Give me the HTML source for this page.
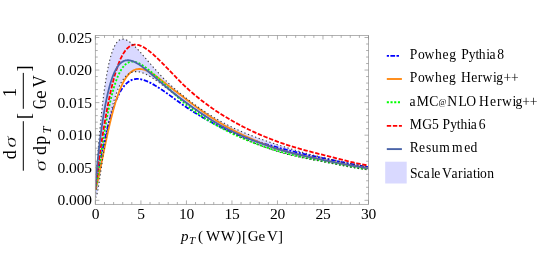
<!DOCTYPE html>
<html><head><meta charset="utf-8"><title>pT(WW)</title>
<style>
html,body{margin:0;padding:0;background:#fff;}
body{width:542px;height:254px;overflow:hidden;font-family:"Liberation Serif",serif;}
svg{display:block;font-family:"Liberation Serif",serif;}
svg text{fill:#000;}
.tx{filter:grayscale(1);}
</style></head><body>
<svg width="542" height="254" viewBox="0 0 542 254">
<defs><clipPath id="cp"><rect x="95.35" y="35.5" width="273.15" height="168.9"/></clipPath></defs>
<rect width="542" height="254" fill="#fff"/>
<g clip-path="url(#cp)" fill="none" stroke-linejoin="round">
<path d="M95.40 196.71 L95.86 184.98 L96.31 176.68 L96.77 169.34 L97.22 162.60 L97.68 156.29 L98.13 150.32 L98.59 144.64 L99.04 139.22 L99.50 134.03 L99.95 129.05 L100.41 124.27 L100.86 119.67 L101.32 115.26 L101.77 111.02 L102.23 106.94 L102.68 103.03 L103.14 99.27 L103.59 95.66 L104.05 92.20 L104.50 88.89 L104.96 85.72 L105.41 82.69 L105.87 79.80 L106.32 77.03 L106.78 74.40 L107.23 71.89 L107.69 69.50 L108.14 67.23 L108.60 65.08 L109.05 63.04 L109.51 61.11 L109.96 59.28 L110.42 57.56 L110.88 55.93 L111.33 54.41 L111.79 52.97 L112.24 51.63 L112.70 50.37 L113.15 49.20 L113.61 48.11 L114.06 47.09 L114.52 46.15 L114.97 45.29 L115.43 44.49 L115.88 43.75 L116.34 43.08 L116.79 42.48 L117.25 41.93 L117.70 41.43 L118.16 40.99 L118.61 40.61 L119.07 40.27 L119.52 39.97 L119.98 39.73 L120.43 39.52 L120.89 39.36 L121.34 39.23 L121.80 39.15 L122.25 39.09 L122.71 39.07 L123.16 39.09 L123.62 39.13 L124.07 39.20 L124.53 39.30 L124.98 39.43 L125.44 39.58 L125.90 39.76 L126.35 39.95 L126.81 40.17 L127.26 40.41 L127.72 40.67 L128.17 40.94 L128.63 41.23 L129.08 41.54 L129.54 41.86 L129.99 42.20 L130.45 42.55 L130.90 42.92 L131.36 43.29 L131.81 43.68 L132.27 44.08 L132.72 44.49 L133.18 44.90 L133.63 45.33 L134.09 45.76 L134.54 46.21 L135.00 46.65 L135.45 47.11 L135.91 47.57 L136.36 48.04 L136.82 48.51 L137.27 48.99 L137.73 49.47 L138.18 49.96 L138.64 50.45 L139.09 50.95 L139.55 51.44 L140.00 51.94 L140.46 52.45 L140.92 52.95 L141.37 53.46 L141.83 53.97 L142.28 54.49 L142.74 55.00 L143.19 55.52 L143.65 56.04 L144.10 56.57 L144.56 57.09 L145.01 57.62 L145.47 58.15 L145.92 58.67 L146.38 59.20 L146.83 59.73 L147.29 60.26 L147.74 60.79 L148.20 61.33 L148.65 61.86 L149.11 62.39 L149.56 62.92 L150.02 63.44 L150.47 63.97 L150.93 64.50 L151.38 65.03 L151.84 65.55 L152.29 66.08 L152.75 66.60 L153.20 67.12 L153.66 67.64 L154.11 68.16 L154.57 68.68 L155.02 69.19 L155.48 69.71 L155.93 70.22 L156.39 70.72 L156.85 71.23 L157.30 71.73 L157.76 72.24 L158.21 72.74 L158.67 73.23 L159.12 73.73 L159.58 74.22 L160.03 74.70 L160.49 75.19 L160.94 75.67 L161.40 76.15 L161.85 76.63 L162.31 77.10 L162.76 77.57 L163.22 78.04 L163.67 78.50 L164.13 78.96 L164.58 79.42 L165.04 79.87 L165.49 80.32 L165.95 80.76 L166.40 81.20 L166.86 81.64 L167.31 82.08 L167.77 82.51 L168.22 82.94 L169.13 83.79 L170.82 85.34 L172.52 86.85 L174.21 88.32 L175.90 89.77 L177.59 91.18 L179.28 92.58 L180.97 93.95 L182.66 95.31 L184.35 96.66 L186.04 97.99 L187.73 99.32 L189.42 100.63 L191.11 101.91 L192.80 103.18 L194.49 104.42 L196.18 105.65 L197.87 106.86 L199.56 108.04 L201.25 109.21 L202.95 110.36 L204.64 111.49 L206.33 112.60 L208.02 113.70 L209.71 114.77 L211.40 115.82 L213.09 116.86 L214.78 117.88 L216.47 118.88 L218.16 119.86 L219.85 120.83 L221.54 121.77 L223.23 122.70 L224.92 123.61 L226.61 124.50 L228.30 125.38 L229.99 126.23 L231.68 127.07 L233.38 127.89 L235.07 128.69 L236.76 129.48 L238.45 130.24 L240.14 130.99 L241.83 131.72 L243.52 132.44 L245.21 133.14 L246.90 133.83 L248.59 134.51 L250.28 135.17 L251.97 135.82 L253.66 136.47 L255.35 137.10 L257.04 137.72 L258.73 138.33 L260.42 138.93 L262.11 139.53 L263.81 140.12 L265.50 140.70 L267.19 141.28 L268.88 141.85 L270.57 142.42 L272.26 142.98 L273.95 143.54 L275.64 144.10 L277.33 144.66 L279.02 145.21 L280.71 145.76 L282.40 146.30 L284.09 146.83 L285.78 147.37 L287.47 147.89 L289.16 148.41 L290.85 148.92 L292.54 149.43 L294.24 149.94 L295.93 150.43 L297.62 150.93 L299.31 151.41 L301.00 151.89 L302.69 152.37 L304.38 152.84 L306.07 153.30 L307.76 153.76 L309.45 154.21 L311.14 154.66 L312.83 155.10 L314.52 155.53 L316.21 155.96 L317.90 156.38 L319.59 156.79 L321.28 157.20 L322.98 157.60 L324.67 158.00 L326.36 158.39 L328.05 158.77 L329.74 159.16 L331.43 159.53 L333.12 159.91 L334.81 160.27 L336.50 160.64 L338.19 161.00 L339.88 161.36 L341.57 161.71 L343.26 162.06 L344.95 162.40 L346.64 162.74 L348.33 163.08 L350.02 163.41 L351.71 163.74 L353.41 164.06 L355.10 164.38 L356.79 164.70 L358.48 165.01 L360.17 165.32 L361.86 165.63 L363.55 165.93 L365.24 166.23 L366.93 166.53 L368.62 166.82 L370.31 167.11 L370.31 170.25 L368.62 170.02 L366.93 169.78 L365.24 169.54 L363.55 169.29 L361.86 169.04 L360.17 168.77 L358.48 168.50 L356.79 168.23 L355.10 167.95 L353.41 167.66 L351.71 167.36 L350.02 167.06 L348.33 166.76 L346.64 166.45 L344.95 166.14 L343.26 165.82 L341.57 165.50 L339.88 165.17 L338.19 164.85 L336.50 164.52 L334.81 164.18 L333.12 163.85 L331.43 163.51 L329.74 163.17 L328.05 162.83 L326.36 162.49 L324.67 162.14 L322.98 161.80 L321.28 161.46 L319.59 161.12 L317.90 160.79 L316.21 160.46 L314.52 160.13 L312.83 159.80 L311.14 159.47 L309.45 159.14 L307.76 158.81 L306.07 158.48 L304.38 158.14 L302.69 157.80 L301.00 157.45 L299.31 157.09 L297.62 156.73 L295.93 156.36 L294.24 155.98 L292.54 155.59 L290.85 155.19 L289.16 154.77 L287.47 154.35 L285.78 153.91 L284.09 153.45 L282.40 152.98 L280.71 152.49 L279.02 151.98 L277.33 151.46 L275.64 150.92 L273.95 150.36 L272.26 149.79 L270.57 149.21 L268.88 148.62 L267.19 148.01 L265.50 147.39 L263.81 146.75 L262.11 146.11 L260.42 145.45 L258.73 144.78 L257.04 144.09 L255.35 143.40 L253.66 142.69 L251.97 141.96 L250.28 141.23 L248.59 140.48 L246.90 139.73 L245.21 138.96 L243.52 138.17 L241.83 137.38 L240.14 136.57 L238.45 135.76 L236.76 134.93 L235.07 134.08 L233.38 133.23 L231.68 132.37 L229.99 131.49 L228.30 130.59 L226.61 129.68 L224.92 128.76 L223.23 127.82 L221.54 126.86 L219.85 125.89 L218.16 124.90 L216.47 123.90 L214.78 122.88 L213.09 121.85 L211.40 120.80 L209.71 119.73 L208.02 118.65 L206.33 117.55 L204.64 116.43 L202.95 115.30 L201.25 114.16 L199.56 113.00 L197.87 111.82 L196.18 110.63 L194.49 109.43 L192.80 108.21 L191.11 106.98 L189.42 105.73 L187.73 104.47 L186.04 103.21 L184.35 101.93 L182.66 100.65 L180.97 99.36 L179.28 98.07 L177.59 96.77 L175.90 95.46 L174.21 94.16 L172.52 92.85 L170.82 91.53 L169.13 90.22 L168.22 89.51 L167.77 89.16 L167.31 88.81 L166.86 88.46 L166.40 88.10 L165.95 87.75 L165.49 87.40 L165.04 87.05 L164.58 86.70 L164.13 86.35 L163.67 86.00 L163.22 85.65 L162.76 85.30 L162.31 84.96 L161.85 84.61 L161.40 84.27 L160.94 83.93 L160.49 83.59 L160.03 83.25 L159.58 82.91 L159.12 82.58 L158.67 82.25 L158.21 81.92 L157.76 81.59 L157.30 81.26 L156.85 80.94 L156.39 80.62 L155.93 80.30 L155.48 79.98 L155.02 79.67 L154.57 79.36 L154.11 79.05 L153.66 78.75 L153.20 78.45 L152.75 78.15 L152.29 77.86 L151.84 77.57 L151.38 77.28 L150.93 77.00 L150.47 76.73 L150.02 76.45 L149.56 76.19 L149.11 75.93 L148.65 75.67 L148.20 75.42 L147.74 75.17 L147.29 74.93 L146.83 74.70 L146.38 74.47 L145.92 74.25 L145.47 74.03 L145.01 73.83 L144.56 73.63 L144.10 73.43 L143.65 73.25 L143.19 73.07 L142.74 72.90 L142.28 72.74 L141.83 72.59 L141.37 72.45 L140.92 72.31 L140.46 72.19 L140.00 72.08 L139.55 71.97 L139.09 71.88 L138.64 71.80 L138.18 71.74 L137.73 71.68 L137.27 71.64 L136.82 71.61 L136.36 71.59 L135.91 71.59 L135.45 71.60 L135.00 71.63 L134.54 71.67 L134.09 71.73 L133.63 71.80 L133.18 71.90 L132.72 72.00 L132.27 72.13 L131.81 72.28 L131.36 72.44 L130.90 72.62 L130.45 72.83 L129.99 73.05 L129.54 73.30 L129.08 73.57 L128.63 73.86 L128.17 74.18 L127.72 74.52 L127.26 74.88 L126.81 75.27 L126.35 75.69 L125.90 76.14 L125.44 76.61 L124.98 77.11 L124.53 77.65 L124.07 78.21 L123.62 78.81 L123.16 79.44 L122.71 80.10 L122.25 80.80 L121.80 81.53 L121.34 82.30 L120.89 83.11 L120.43 83.95 L119.98 84.84 L119.52 85.76 L119.07 86.73 L118.61 87.75 L118.16 88.80 L117.70 89.91 L117.25 91.05 L116.79 92.25 L116.34 93.50 L115.88 94.80 L115.43 96.14 L114.97 97.55 L114.52 99.00 L114.06 100.51 L113.61 102.08 L113.15 103.71 L112.70 105.39 L112.24 107.14 L111.79 108.94 L111.33 110.81 L110.88 112.74 L110.42 114.74 L109.96 116.80 L109.51 118.93 L109.05 121.12 L108.60 123.38 L108.14 125.71 L107.69 128.10 L107.23 130.57 L106.78 133.10 L106.32 135.69 L105.87 138.35 L105.41 141.08 L104.96 143.87 L104.50 146.71 L104.05 149.61 L103.59 152.57 L103.14 155.57 L102.68 158.61 L102.23 161.68 L101.77 164.78 L101.32 167.89 L100.86 171.01 L100.41 174.11 L99.95 177.17 L99.50 180.19 L99.04 183.12 L98.59 185.93 L98.13 188.59 L97.68 191.05 L97.22 193.25 L96.77 195.09 L96.31 196.49 L95.86 197.27 L95.40 197.01 Z" fill="#d9d9ff" stroke="none"/>
<path d="M95.40 190.25 L95.86 187.23 L96.31 184.41 L96.77 181.67 L97.22 178.98 L97.68 176.34 L98.13 173.74 L98.59 171.17 L99.04 168.64 L99.50 166.15 L99.95 163.69 L100.41 161.26 L100.86 158.87 L101.32 156.52 L101.77 154.19 L102.23 151.91 L102.68 149.66 L103.14 147.44 L103.59 145.26 L104.05 143.12 L104.50 141.01 L104.96 138.95 L105.41 136.92 L105.87 134.92 L106.32 132.97 L106.78 131.05 L107.23 129.18 L107.69 127.34 L108.14 125.54 L108.60 123.78 L109.05 122.06 L109.51 120.38 L109.96 118.74 L110.42 117.14 L110.88 115.58 L111.33 114.05 L111.79 112.57 L112.24 111.12 L112.70 109.72 L113.15 108.35 L113.61 107.02 L114.06 105.72 L114.52 104.47 L114.97 103.25 L115.43 102.07 L115.88 100.92 L116.34 99.81 L116.79 98.74 L117.25 97.70 L117.70 96.70 L118.16 95.73 L118.61 94.79 L119.07 93.89 L119.52 93.02 L119.98 92.18 L120.43 91.38 L120.89 90.60 L121.34 89.86 L121.80 89.14 L122.25 88.46 L122.71 87.81 L123.16 87.18 L123.62 86.58 L124.07 86.01 L124.53 85.46 L124.98 84.95 L125.44 84.45 L125.90 83.99 L126.35 83.54 L126.81 83.12 L127.26 82.73 L127.72 82.36 L128.17 82.01 L128.63 81.68 L129.08 81.37 L129.54 81.08 L129.99 80.82 L130.45 80.57 L130.90 80.35 L131.36 80.14 L131.81 79.95 L132.27 79.78 L132.72 79.62 L133.18 79.48 L133.63 79.36 L134.09 79.26 L134.54 79.17 L135.00 79.09 L135.45 79.03 L135.91 78.99 L136.36 78.96 L136.82 78.94 L137.27 78.93 L137.73 78.94 L138.18 78.96 L138.64 78.99 L139.09 79.04 L139.55 79.09 L140.00 79.16 L140.46 79.23 L140.92 79.32 L141.37 79.41 L141.83 79.52 L142.28 79.63 L142.74 79.75 L143.19 79.88 L143.65 80.02 L144.10 80.17 L144.56 80.32 L145.01 80.48 L145.47 80.65 L145.92 80.83 L146.38 81.01 L146.83 81.19 L147.29 81.39 L147.74 81.59 L148.20 81.79 L148.65 82.00 L149.11 82.22 L149.56 82.44 L150.02 82.67 L150.47 82.90 L150.93 83.13 L151.38 83.37 L151.84 83.62 L152.29 83.86 L152.75 84.12 L153.20 84.37 L153.66 84.63 L154.11 84.89 L154.57 85.16 L155.02 85.43 L155.48 85.70 L155.93 85.97 L156.39 86.25 L156.85 86.53 L157.30 86.82 L157.76 87.10 L158.21 87.39 L158.67 87.68 L159.12 87.97 L159.58 88.27 L160.03 88.56 L160.49 88.86 L160.94 89.16 L161.40 89.47 L161.85 89.77 L162.31 90.07 L162.76 90.38 L163.22 90.69 L163.67 91.00 L164.13 91.31 L164.58 91.63 L165.04 91.94 L165.49 92.26 L165.95 92.58 L166.40 92.90 L166.86 93.23 L167.31 93.55 L167.77 93.88 L168.22 94.21 L169.13 94.87 L170.82 96.11 L172.52 97.35 L174.21 98.60 L175.90 99.85 L177.59 101.09 L179.28 102.32 L180.97 103.53 L182.66 104.72 L184.35 105.90 L186.04 107.04 L187.73 108.16 L189.42 109.27 L191.11 110.36 L192.80 111.44 L194.49 112.50 L196.18 113.55 L197.87 114.58 L199.56 115.60 L201.25 116.61 L202.95 117.60 L204.64 118.57 L206.33 119.53 L208.02 120.47 L209.71 121.40 L211.40 122.32 L213.09 123.21 L214.78 124.10 L216.47 124.97 L218.16 125.83 L219.85 126.67 L221.54 127.50 L223.23 128.31 L224.92 129.11 L226.61 129.90 L228.30 130.68 L229.99 131.44 L231.68 132.19 L233.38 132.92 L235.07 133.63 L236.76 134.33 L238.45 135.01 L240.14 135.67 L241.83 136.31 L243.52 136.94 L245.21 137.55 L246.90 138.15 L248.59 138.73 L250.28 139.30 L251.97 139.86 L253.66 140.41 L255.35 140.95 L257.04 141.48 L258.73 142.00 L260.42 142.52 L262.11 143.02 L263.81 143.52 L265.50 144.01 L267.19 144.50 L268.88 144.98 L270.57 145.46 L272.26 145.94 L273.95 146.42 L275.64 146.89 L277.33 147.36 L279.02 147.83 L280.71 148.30 L282.40 148.75 L284.09 149.20 L285.78 149.65 L287.47 150.09 L289.16 150.52 L290.85 150.94 L292.54 151.36 L294.24 151.78 L295.93 152.19 L297.62 152.59 L299.31 152.99 L301.00 153.38 L302.69 153.77 L304.38 154.16 L306.07 154.54 L307.76 154.91 L309.45 155.28 L311.14 155.65 L312.83 156.01 L314.52 156.37 L316.21 156.72 L317.90 157.07 L319.59 157.42 L321.28 157.76 L322.98 158.10 L324.67 158.44 L326.36 158.79 L328.05 159.14 L329.74 159.49 L331.43 159.85 L333.12 160.21 L334.81 160.57 L336.50 160.94 L338.19 161.30 L339.88 161.66 L341.57 162.03 L343.26 162.39 L344.95 162.75 L346.64 163.10 L348.33 163.45 L350.02 163.80 L351.71 164.14 L353.41 164.48 L355.10 164.81 L356.79 165.13 L358.48 165.45 L360.17 165.75 L361.86 166.05 L363.55 166.33 L365.24 166.61 L366.93 166.87 L368.62 167.12 L370.31 167.36" stroke="#0000ff" stroke-width="1.8" stroke-dasharray="2 1.6 4.6 1.6"/>
<path d="M95.40 189.42 L95.86 188.15 L96.31 186.53 L96.77 184.75 L97.22 182.87 L97.68 180.91 L98.13 178.88 L98.59 176.81 L99.04 174.69 L99.50 172.55 L99.95 170.37 L100.41 168.17 L100.86 165.96 L101.32 163.74 L101.77 161.51 L102.23 159.27 L102.68 157.03 L103.14 154.80 L103.59 152.57 L104.05 150.35 L104.50 148.14 L104.96 145.94 L105.41 143.76 L105.87 141.59 L106.32 139.45 L106.78 137.32 L107.23 135.22 L107.69 133.14 L108.14 131.08 L108.60 129.06 L109.05 127.06 L109.51 125.09 L109.96 123.15 L110.42 121.25 L110.88 119.37 L111.33 117.53 L111.79 115.72 L112.24 113.95 L112.70 112.22 L113.15 110.52 L113.61 108.85 L114.06 107.23 L114.52 105.64 L114.97 104.08 L115.43 102.57 L115.88 101.09 L116.34 99.65 L116.79 98.25 L117.25 96.88 L117.70 95.56 L118.16 94.27 L118.61 93.02 L119.07 91.81 L119.52 90.63 L119.98 89.49 L120.43 88.39 L120.89 87.32 L121.34 86.29 L121.80 85.30 L122.25 84.34 L122.71 83.42 L123.16 82.53 L123.62 81.67 L124.07 80.85 L124.53 80.06 L124.98 79.30 L125.44 78.58 L125.90 77.88 L126.35 77.22 L126.81 76.59 L127.26 75.99 L127.72 75.41 L128.17 74.87 L128.63 74.35 L129.08 73.86 L129.54 73.40 L129.99 72.97 L130.45 72.56 L130.90 72.18 L131.36 71.82 L131.81 71.48 L132.27 71.17 L132.72 70.88 L133.18 70.62 L133.63 70.38 L134.09 70.15 L134.54 69.95 L135.00 69.77 L135.45 69.61 L135.91 69.47 L136.36 69.35 L136.82 69.24 L137.27 69.16 L137.73 69.09 L138.18 69.03 L138.64 69.00 L139.09 68.98 L139.55 68.97 L140.00 68.98 L140.46 69.01 L140.92 69.05 L141.37 69.10 L141.83 69.17 L142.28 69.25 L142.74 69.34 L143.19 69.45 L143.65 69.57 L144.10 69.70 L144.56 69.84 L145.01 69.99 L145.47 70.15 L145.92 70.33 L146.38 70.51 L146.83 70.70 L147.29 70.91 L147.74 71.12 L148.20 71.34 L148.65 71.57 L149.11 71.80 L149.56 72.05 L150.02 72.30 L150.47 72.56 L150.93 72.82 L151.38 73.09 L151.84 73.37 L152.29 73.65 L152.75 73.94 L153.20 74.24 L153.66 74.54 L154.11 74.84 L154.57 75.15 L155.02 75.46 L155.48 75.78 L155.93 76.10 L156.39 76.43 L156.85 76.76 L157.30 77.09 L157.76 77.43 L158.21 77.77 L158.67 78.11 L159.12 78.45 L159.58 78.80 L160.03 79.15 L160.49 79.50 L160.94 79.85 L161.40 80.21 L161.85 80.56 L162.31 80.92 L162.76 81.28 L163.22 81.64 L163.67 82.00 L164.13 82.36 L164.58 82.72 L165.04 83.08 L165.49 83.44 L165.95 83.80 L166.40 84.16 L166.86 84.51 L167.31 84.87 L167.77 85.22 L168.22 85.58 L169.13 86.29 L170.82 87.59 L172.52 88.89 L174.21 90.18 L175.90 91.46 L177.59 92.74 L179.28 94.02 L180.97 95.31 L182.66 96.59 L184.35 97.89 L186.04 99.20 L187.73 100.51 L189.42 101.81 L191.11 103.11 L192.80 104.38 L194.49 105.65 L196.18 106.90 L197.87 108.13 L199.56 109.35 L201.25 110.56 L202.95 111.75 L204.64 112.92 L206.33 114.07 L208.02 115.21 L209.71 116.33 L211.40 117.44 L213.09 118.53 L214.78 119.60 L216.47 120.65 L218.16 121.69 L219.85 122.71 L221.54 123.71 L223.23 124.69 L224.92 125.66 L226.61 126.61 L228.30 127.55 L229.99 128.46 L231.68 129.36 L233.38 130.25 L235.07 131.12 L236.76 131.98 L238.45 132.83 L240.14 133.66 L241.83 134.48 L243.52 135.29 L245.21 136.09 L246.90 136.88 L248.59 137.65 L250.28 138.41 L251.97 139.16 L253.66 139.89 L255.35 140.62 L257.04 141.33 L258.73 142.02 L260.42 142.71 L262.11 143.38 L263.81 144.04 L265.50 144.69 L267.19 145.32 L268.88 145.94 L270.57 146.55 L272.26 147.15 L273.95 147.73 L275.64 148.30 L277.33 148.86 L279.02 149.40 L280.71 149.92 L282.40 150.43 L284.09 150.92 L285.78 151.40 L287.47 151.86 L289.16 152.31 L290.85 152.75 L292.54 153.18 L294.24 153.60 L295.93 154.00 L297.62 154.40 L299.31 154.79 L301.00 155.18 L302.69 155.55 L304.38 155.92 L306.07 156.29 L307.76 156.66 L309.45 157.02 L311.14 157.38 L312.83 157.73 L314.52 158.09 L316.21 158.45 L317.90 158.81 L319.59 159.17 L321.28 159.53 L322.98 159.90 L324.67 160.27 L326.36 160.63 L328.05 160.99 L329.74 161.34 L331.43 161.69 L333.12 162.03 L334.81 162.37 L336.50 162.71 L338.19 163.04 L339.88 163.36 L341.57 163.69 L343.26 164.00 L344.95 164.32 L346.64 164.63 L348.33 164.93 L350.02 165.24 L351.71 165.53 L353.41 165.83 L355.10 166.12 L356.79 166.41 L358.48 166.69 L360.17 166.97 L361.86 167.25 L363.55 167.52 L365.24 167.79 L366.93 168.06 L368.62 168.32 L370.31 168.58" stroke="#ff8a14" stroke-width="1.8"/>
<path d="M95.40 190.04 L95.86 187.96 L96.31 185.41 L96.77 182.66 L97.22 179.78 L97.68 176.81 L98.13 173.79 L98.59 170.72 L99.04 167.64 L99.50 164.54 L99.95 161.44 L100.41 158.35 L100.86 155.27 L101.32 152.22 L101.77 149.19 L102.23 146.20 L102.68 143.24 L103.14 140.32 L103.59 137.45 L104.05 134.62 L104.50 131.85 L104.96 129.12 L105.41 126.45 L105.87 123.84 L106.32 121.28 L106.78 118.78 L107.23 116.34 L107.69 113.96 L108.14 111.64 L108.60 109.38 L109.05 107.18 L109.51 105.05 L109.96 102.97 L110.42 100.96 L110.88 99.01 L111.33 97.11 L111.79 95.28 L112.24 93.51 L112.70 91.80 L113.15 90.15 L113.61 88.55 L114.06 87.02 L114.52 85.54 L114.97 84.11 L115.43 82.74 L115.88 81.43 L116.34 80.16 L116.79 78.95 L117.25 77.79 L117.70 76.68 L118.16 75.62 L118.61 74.61 L119.07 73.65 L119.52 72.73 L119.98 71.85 L120.43 71.02 L120.89 70.23 L121.34 69.49 L121.80 68.79 L122.25 68.12 L122.71 67.49 L123.16 66.91 L123.62 66.36 L124.07 65.84 L124.53 65.36 L124.98 64.91 L125.44 64.50 L125.90 64.12 L126.35 63.77 L126.81 63.45 L127.26 63.16 L127.72 62.89 L128.17 62.66 L128.63 62.45 L129.08 62.27 L129.54 62.11 L129.99 61.98 L130.45 61.87 L130.90 61.78 L131.36 61.72 L131.81 61.67 L132.27 61.65 L132.72 61.65 L133.18 61.67 L133.63 61.70 L134.09 61.76 L134.54 61.83 L135.00 61.92 L135.45 62.02 L135.91 62.14 L136.36 62.27 L136.82 62.42 L137.27 62.59 L137.73 62.76 L138.18 62.95 L138.64 63.16 L139.09 63.37 L139.55 63.60 L140.00 63.83 L140.46 64.08 L140.92 64.34 L141.37 64.60 L141.83 64.88 L142.28 65.16 L142.74 65.46 L143.19 65.76 L143.65 66.06 L144.10 66.38 L144.56 66.70 L145.01 67.03 L145.47 67.36 L145.92 67.70 L146.38 68.04 L146.83 68.39 L147.29 68.75 L147.74 69.11 L148.20 69.47 L148.65 69.84 L149.11 70.22 L149.56 70.60 L150.02 70.98 L150.47 71.36 L150.93 71.75 L151.38 72.14 L151.84 72.54 L152.29 72.94 L152.75 73.34 L153.20 73.74 L153.66 74.15 L154.11 74.55 L154.57 74.96 L155.02 75.38 L155.48 75.79 L155.93 76.21 L156.39 76.63 L156.85 77.05 L157.30 77.47 L157.76 77.89 L158.21 78.32 L158.67 78.74 L159.12 79.17 L159.58 79.60 L160.03 80.03 L160.49 80.46 L160.94 80.89 L161.40 81.33 L161.85 81.76 L162.31 82.19 L162.76 82.63 L163.22 83.06 L163.67 83.50 L164.13 83.94 L164.58 84.38 L165.04 84.82 L165.49 85.26 L165.95 85.70 L166.40 86.15 L166.86 86.59 L167.31 87.04 L167.77 87.48 L168.22 87.93 L169.13 88.83 L170.82 90.49 L172.52 92.15 L174.21 93.80 L175.90 95.43 L177.59 97.04 L179.28 98.62 L180.97 100.17 L182.66 101.68 L184.35 103.15 L186.04 104.58 L187.73 105.96 L189.42 107.31 L191.11 108.63 L192.80 109.92 L194.49 111.19 L196.18 112.43 L197.87 113.63 L199.56 114.82 L201.25 115.97 L202.95 117.10 L204.64 118.21 L206.33 119.29 L208.02 120.35 L209.71 121.39 L211.40 122.41 L213.09 123.41 L214.78 124.38 L216.47 125.34 L218.16 126.28 L219.85 127.21 L221.54 128.11 L223.23 129.01 L224.92 129.89 L226.61 130.75 L228.30 131.60 L229.99 132.44 L231.68 133.27 L233.38 134.09 L235.07 134.89 L236.76 135.68 L238.45 136.46 L240.14 137.22 L241.83 137.97 L243.52 138.70 L245.21 139.42 L246.90 140.13 L248.59 140.82 L250.28 141.51 L251.97 142.18 L253.66 142.83 L255.35 143.48 L257.04 144.11 L258.73 144.74 L260.42 145.35 L262.11 145.95 L263.81 146.54 L265.50 147.11 L267.19 147.68 L268.88 148.24 L270.57 148.78 L272.26 149.32 L273.95 149.84 L275.64 150.36 L277.33 150.86 L279.02 151.35 L280.71 151.84 L282.40 152.30 L284.09 152.76 L285.78 153.21 L287.47 153.64 L289.16 154.07 L290.85 154.48 L292.54 154.89 L294.24 155.29 L295.93 155.68 L297.62 156.06 L299.31 156.44 L301.00 156.81 L302.69 157.17 L304.38 157.53 L306.07 157.88 L307.76 158.23 L309.45 158.57 L311.14 158.91 L312.83 159.24 L314.52 159.57 L316.21 159.90 L317.90 160.23 L319.59 160.55 L321.28 160.88 L322.98 161.20 L324.67 161.52 L326.36 161.85 L328.05 162.18 L329.74 162.52 L331.43 162.85 L333.12 163.19 L334.81 163.53 L336.50 163.87 L338.19 164.20 L339.88 164.54 L341.57 164.88 L343.26 165.21 L344.95 165.54 L346.64 165.86 L348.33 166.19 L350.02 166.50 L351.71 166.82 L353.41 167.12 L355.10 167.42 L356.79 167.72 L358.48 168.00 L360.17 168.28 L361.86 168.55 L363.55 168.81 L365.24 169.05 L366.93 169.29 L368.62 169.52 L370.31 169.74" stroke="#00ff00" stroke-width="1.8" stroke-dasharray="2 1.7"/>
<path d="M95.40 189.88 L95.86 185.24 L96.31 181.20 L96.77 177.38 L97.22 173.69 L97.68 170.10 L98.13 166.61 L98.59 163.18 L99.04 159.82 L99.50 156.52 L99.95 153.28 L100.41 150.10 L100.86 146.96 L101.32 143.88 L101.77 140.85 L102.23 137.87 L102.68 134.94 L103.14 132.06 L103.59 129.22 L104.05 126.44 L104.50 123.70 L104.96 121.02 L105.41 118.38 L105.87 115.79 L106.32 113.25 L106.78 110.76 L107.23 108.33 L107.69 105.94 L108.14 103.60 L108.60 101.31 L109.05 99.08 L109.51 96.89 L109.96 94.75 L110.42 92.67 L110.88 90.63 L111.33 88.65 L111.79 86.72 L112.24 84.83 L112.70 83.00 L113.15 81.22 L113.61 79.48 L114.06 77.80 L114.52 76.17 L114.97 74.58 L115.43 73.05 L115.88 71.56 L116.34 70.12 L116.79 68.72 L117.25 67.38 L117.70 66.08 L118.16 64.82 L118.61 63.62 L119.07 62.45 L119.52 61.33 L119.98 60.26 L120.43 59.22 L120.89 58.23 L121.34 57.29 L121.80 56.38 L122.25 55.51 L122.71 54.68 L123.16 53.89 L123.62 53.14 L124.07 52.43 L124.53 51.75 L124.98 51.11 L125.44 50.51 L125.90 49.93 L126.35 49.40 L126.81 48.89 L127.26 48.42 L127.72 47.98 L128.17 47.57 L128.63 47.19 L129.08 46.85 L129.54 46.52 L129.99 46.23 L130.45 45.97 L130.90 45.73 L131.36 45.51 L131.81 45.33 L132.27 45.16 L132.72 45.02 L133.18 44.91 L133.63 44.82 L134.09 44.74 L134.54 44.69 L135.00 44.66 L135.45 44.65 L135.91 44.66 L136.36 44.69 L136.82 44.74 L137.27 44.81 L137.73 44.89 L138.18 44.99 L138.64 45.10 L139.09 45.23 L139.55 45.38 L140.00 45.54 L140.46 45.71 L140.92 45.90 L141.37 46.10 L141.83 46.31 L142.28 46.53 L142.74 46.77 L143.19 47.01 L143.65 47.27 L144.10 47.53 L144.56 47.81 L145.01 48.09 L145.47 48.39 L145.92 48.69 L146.38 49.00 L146.83 49.32 L147.29 49.64 L147.74 49.97 L148.20 50.31 L148.65 50.66 L149.11 51.01 L149.56 51.37 L150.02 51.74 L150.47 52.11 L150.93 52.48 L151.38 52.86 L151.84 53.25 L152.29 53.64 L152.75 54.04 L153.20 54.44 L153.66 54.84 L154.11 55.25 L154.57 55.66 L155.02 56.08 L155.48 56.50 L155.93 56.92 L156.39 57.35 L156.85 57.78 L157.30 58.21 L157.76 58.65 L158.21 59.08 L158.67 59.52 L159.12 59.97 L159.58 60.41 L160.03 60.86 L160.49 61.31 L160.94 61.76 L161.40 62.21 L161.85 62.67 L162.31 63.12 L162.76 63.58 L163.22 64.04 L163.67 64.50 L164.13 64.96 L164.58 65.43 L165.04 65.89 L165.49 66.36 L165.95 66.83 L166.40 67.30 L166.86 67.78 L167.31 68.25 L167.77 68.73 L168.22 69.20 L169.13 70.16 L170.82 71.93 L172.52 73.71 L174.21 75.47 L175.90 77.23 L177.59 78.97 L179.28 80.69 L180.97 82.38 L182.66 84.04 L184.35 85.66 L186.04 87.24 L187.73 88.78 L189.42 90.30 L191.11 91.79 L192.80 93.26 L194.49 94.70 L196.18 96.11 L197.87 97.50 L199.56 98.86 L201.25 100.19 L202.95 101.50 L204.64 102.79 L206.33 104.06 L208.02 105.30 L209.71 106.51 L211.40 107.71 L213.09 108.88 L214.78 110.04 L216.47 111.17 L218.16 112.28 L219.85 113.38 L221.54 114.45 L223.23 115.51 L224.92 116.55 L226.61 117.57 L228.30 118.58 L229.99 119.57 L231.68 120.55 L233.38 121.51 L235.07 122.46 L236.76 123.39 L238.45 124.30 L240.14 125.20 L241.83 126.08 L243.52 126.95 L245.21 127.80 L246.90 128.64 L248.59 129.46 L250.28 130.27 L251.97 131.07 L253.66 131.85 L255.35 132.62 L257.04 133.38 L258.73 134.13 L260.42 134.86 L262.11 135.58 L263.81 136.29 L265.50 136.98 L267.19 137.67 L268.88 138.34 L270.57 139.01 L272.26 139.66 L273.95 140.30 L275.64 140.93 L277.33 141.55 L279.02 142.16 L280.71 142.76 L282.40 143.35 L284.09 143.92 L285.78 144.48 L287.47 145.04 L289.16 145.58 L290.85 146.11 L292.54 146.64 L294.24 147.15 L295.93 147.66 L297.62 148.15 L299.31 148.65 L301.00 149.13 L302.69 149.60 L304.38 150.07 L306.07 150.54 L307.76 150.99 L309.45 151.44 L311.14 151.89 L312.83 152.33 L314.52 152.77 L316.21 153.20 L317.90 153.63 L319.59 154.06 L321.28 154.48 L322.98 154.90 L324.67 155.32 L326.36 155.74 L328.05 156.17 L329.74 156.60 L331.43 157.03 L333.12 157.46 L334.81 157.90 L336.50 158.33 L338.19 158.76 L339.88 159.19 L341.57 159.62 L343.26 160.04 L344.95 160.46 L346.64 160.88 L348.33 161.29 L350.02 161.70 L351.71 162.10 L353.41 162.49 L355.10 162.88 L356.79 163.26 L358.48 163.63 L360.17 163.99 L361.86 164.34 L363.55 164.68 L365.24 165.00 L366.93 165.32 L368.62 165.62 L370.31 165.92" stroke="#ff0000" stroke-width="1.8" stroke-dasharray="4.4 1.65"/>
<path d="M95.40 196.71 L95.86 184.98 L96.31 176.68 L96.77 169.34 L97.22 162.60 L97.68 156.29 L98.13 150.32 L98.59 144.64 L99.04 139.22 L99.50 134.03 L99.95 129.05 L100.41 124.27 L100.86 119.67 L101.32 115.26 L101.77 111.02 L102.23 106.94 L102.68 103.03 L103.14 99.27 L103.59 95.66 L104.05 92.20 L104.50 88.89 L104.96 85.72 L105.41 82.69 L105.87 79.80 L106.32 77.03 L106.78 74.40 L107.23 71.89 L107.69 69.50 L108.14 67.23 L108.60 65.08 L109.05 63.04 L109.51 61.11 L109.96 59.28 L110.42 57.56 L110.88 55.93 L111.33 54.41 L111.79 52.97 L112.24 51.63 L112.70 50.37 L113.15 49.20 L113.61 48.11 L114.06 47.09 L114.52 46.15 L114.97 45.29 L115.43 44.49 L115.88 43.75 L116.34 43.08 L116.79 42.48 L117.25 41.93 L117.70 41.43 L118.16 40.99 L118.61 40.61 L119.07 40.27 L119.52 39.97 L119.98 39.73 L120.43 39.52 L120.89 39.36 L121.34 39.23 L121.80 39.15 L122.25 39.09 L122.71 39.07 L123.16 39.09 L123.62 39.13 L124.07 39.20 L124.53 39.30 L124.98 39.43 L125.44 39.58 L125.90 39.76 L126.35 39.95 L126.81 40.17 L127.26 40.41 L127.72 40.67 L128.17 40.94 L128.63 41.23 L129.08 41.54 L129.54 41.86 L129.99 42.20 L130.45 42.55 L130.90 42.92 L131.36 43.29 L131.81 43.68 L132.27 44.08 L132.72 44.49 L133.18 44.90 L133.63 45.33 L134.09 45.76 L134.54 46.21 L135.00 46.65 L135.45 47.11 L135.91 47.57 L136.36 48.04 L136.82 48.51 L137.27 48.99 L137.73 49.47 L138.18 49.96 L138.64 50.45 L139.09 50.95 L139.55 51.44 L140.00 51.94 L140.46 52.45 L140.92 52.95 L141.37 53.46 L141.83 53.97 L142.28 54.49 L142.74 55.00 L143.19 55.52 L143.65 56.04 L144.10 56.57 L144.56 57.09 L145.01 57.62 L145.47 58.15 L145.92 58.67 L146.38 59.20 L146.83 59.73 L147.29 60.26 L147.74 60.79 L148.20 61.33 L148.65 61.86 L149.11 62.39 L149.56 62.92 L150.02 63.44 L150.47 63.97 L150.93 64.50 L151.38 65.03 L151.84 65.55 L152.29 66.08 L152.75 66.60 L153.20 67.12 L153.66 67.64 L154.11 68.16 L154.57 68.68 L155.02 69.19 L155.48 69.71 L155.93 70.22 L156.39 70.72 L156.85 71.23 L157.30 71.73 L157.76 72.24 L158.21 72.74 L158.67 73.23 L159.12 73.73 L159.58 74.22 L160.03 74.70 L160.49 75.19 L160.94 75.67 L161.40 76.15 L161.85 76.63 L162.31 77.10 L162.76 77.57 L163.22 78.04 L163.67 78.50 L164.13 78.96 L164.58 79.42 L165.04 79.87 L165.49 80.32 L165.95 80.76 L166.40 81.20 L166.86 81.64 L167.31 82.08 L167.77 82.51 L168.22 82.94 L169.13 83.79 L170.82 85.34 L172.52 86.85 L174.21 88.32 L175.90 89.77 L177.59 91.18 L179.28 92.58 L180.97 93.95 L182.66 95.31 L184.35 96.66 L186.04 97.99 L187.73 99.32 L189.42 100.63 L191.11 101.91 L192.80 103.18 L194.49 104.42 L196.18 105.65 L197.87 106.86 L199.56 108.04 L201.25 109.21 L202.95 110.36 L204.64 111.49 L206.33 112.60 L208.02 113.70 L209.71 114.77 L211.40 115.82 L213.09 116.86 L214.78 117.88 L216.47 118.88 L218.16 119.86 L219.85 120.83 L221.54 121.77 L223.23 122.70 L224.92 123.61 L226.61 124.50 L228.30 125.38 L229.99 126.23 L231.68 127.07 L233.38 127.89 L235.07 128.69 L236.76 129.48 L238.45 130.24 L240.14 130.99 L241.83 131.72 L243.52 132.44 L245.21 133.14 L246.90 133.83 L248.59 134.51 L250.28 135.17 L251.97 135.82 L253.66 136.47 L255.35 137.10 L257.04 137.72 L258.73 138.33 L260.42 138.93 L262.11 139.53 L263.81 140.12 L265.50 140.70 L267.19 141.28 L268.88 141.85 L270.57 142.42 L272.26 142.98 L273.95 143.54 L275.64 144.10 L277.33 144.66 L279.02 145.21 L280.71 145.76 L282.40 146.30 L284.09 146.83 L285.78 147.37 L287.47 147.89 L289.16 148.41 L290.85 148.92 L292.54 149.43 L294.24 149.94 L295.93 150.43 L297.62 150.93 L299.31 151.41 L301.00 151.89 L302.69 152.37 L304.38 152.84 L306.07 153.30 L307.76 153.76 L309.45 154.21 L311.14 154.66 L312.83 155.10 L314.52 155.53 L316.21 155.96 L317.90 156.38 L319.59 156.79 L321.28 157.20 L322.98 157.60 L324.67 158.00 L326.36 158.39 L328.05 158.77 L329.74 159.16 L331.43 159.53 L333.12 159.91 L334.81 160.27 L336.50 160.64 L338.19 161.00 L339.88 161.36 L341.57 161.71 L343.26 162.06 L344.95 162.40 L346.64 162.74 L348.33 163.08 L350.02 163.41 L351.71 163.74 L353.41 164.06 L355.10 164.38 L356.79 164.70 L358.48 165.01 L360.17 165.32 L361.86 165.63 L363.55 165.93 L365.24 166.23 L366.93 166.53 L368.62 166.82 L370.31 167.11" stroke="#3a3a3a" stroke-width="1.1" stroke-dasharray="1.3 2.5"/>
<path d="M95.40 197.01 L95.86 197.27 L96.31 196.49 L96.77 195.09 L97.22 193.25 L97.68 191.05 L98.13 188.59 L98.59 185.93 L99.04 183.12 L99.50 180.19 L99.95 177.17 L100.41 174.11 L100.86 171.01 L101.32 167.89 L101.77 164.78 L102.23 161.68 L102.68 158.61 L103.14 155.57 L103.59 152.57 L104.05 149.61 L104.50 146.71 L104.96 143.87 L105.41 141.08 L105.87 138.35 L106.32 135.69 L106.78 133.10 L107.23 130.57 L107.69 128.10 L108.14 125.71 L108.60 123.38 L109.05 121.12 L109.51 118.93 L109.96 116.80 L110.42 114.74 L110.88 112.74 L111.33 110.81 L111.79 108.94 L112.24 107.14 L112.70 105.39 L113.15 103.71 L113.61 102.08 L114.06 100.51 L114.52 99.00 L114.97 97.55 L115.43 96.14 L115.88 94.80 L116.34 93.50 L116.79 92.25 L117.25 91.05 L117.70 89.91 L118.16 88.80 L118.61 87.75 L119.07 86.73 L119.52 85.76 L119.98 84.84 L120.43 83.95 L120.89 83.11 L121.34 82.30 L121.80 81.53 L122.25 80.80 L122.71 80.10 L123.16 79.44 L123.62 78.81 L124.07 78.21 L124.53 77.65 L124.98 77.11 L125.44 76.61 L125.90 76.14 L126.35 75.69 L126.81 75.27 L127.26 74.88 L127.72 74.52 L128.17 74.18 L128.63 73.86 L129.08 73.57 L129.54 73.30 L129.99 73.05 L130.45 72.83 L130.90 72.62 L131.36 72.44 L131.81 72.28 L132.27 72.13 L132.72 72.00 L133.18 71.90 L133.63 71.80 L134.09 71.73 L134.54 71.67 L135.00 71.63 L135.45 71.60 L135.91 71.59 L136.36 71.59 L136.82 71.61 L137.27 71.64 L137.73 71.68 L138.18 71.74 L138.64 71.80 L139.09 71.88 L139.55 71.97 L140.00 72.08 L140.46 72.19 L140.92 72.31 L141.37 72.45 L141.83 72.59 L142.28 72.74 L142.74 72.90 L143.19 73.07 L143.65 73.25 L144.10 73.43 L144.56 73.63 L145.01 73.83 L145.47 74.03 L145.92 74.25 L146.38 74.47 L146.83 74.70 L147.29 74.93 L147.74 75.17 L148.20 75.42 L148.65 75.67 L149.11 75.93 L149.56 76.19 L150.02 76.45 L150.47 76.73 L150.93 77.00 L151.38 77.28 L151.84 77.57 L152.29 77.86 L152.75 78.15 L153.20 78.45 L153.66 78.75 L154.11 79.05 L154.57 79.36 L155.02 79.67 L155.48 79.98 L155.93 80.30 L156.39 80.62 L156.85 80.94 L157.30 81.26 L157.76 81.59 L158.21 81.92 L158.67 82.25 L159.12 82.58 L159.58 82.91 L160.03 83.25 L160.49 83.59 L160.94 83.93 L161.40 84.27 L161.85 84.61 L162.31 84.96 L162.76 85.30 L163.22 85.65 L163.67 86.00 L164.13 86.35 L164.58 86.70 L165.04 87.05 L165.49 87.40 L165.95 87.75 L166.40 88.10 L166.86 88.46 L167.31 88.81 L167.77 89.16 L168.22 89.51 L169.13 90.22 L170.82 91.53 L172.52 92.85 L174.21 94.16 L175.90 95.46 L177.59 96.77 L179.28 98.07 L180.97 99.36 L182.66 100.65 L184.35 101.93 L186.04 103.21 L187.73 104.47 L189.42 105.73 L191.11 106.98 L192.80 108.21 L194.49 109.43 L196.18 110.63 L197.87 111.82 L199.56 113.00 L201.25 114.16 L202.95 115.30 L204.64 116.43 L206.33 117.55 L208.02 118.65 L209.71 119.73 L211.40 120.80 L213.09 121.85 L214.78 122.88 L216.47 123.90 L218.16 124.90 L219.85 125.89 L221.54 126.86 L223.23 127.82 L224.92 128.76 L226.61 129.68 L228.30 130.59 L229.99 131.49 L231.68 132.37 L233.38 133.23 L235.07 134.08 L236.76 134.93 L238.45 135.76 L240.14 136.57 L241.83 137.38 L243.52 138.17 L245.21 138.96 L246.90 139.73 L248.59 140.48 L250.28 141.23 L251.97 141.96 L253.66 142.69 L255.35 143.40 L257.04 144.09 L258.73 144.78 L260.42 145.45 L262.11 146.11 L263.81 146.75 L265.50 147.39 L267.19 148.01 L268.88 148.62 L270.57 149.21 L272.26 149.79 L273.95 150.36 L275.64 150.92 L277.33 151.46 L279.02 151.98 L280.71 152.49 L282.40 152.98 L284.09 153.45 L285.78 153.91 L287.47 154.35 L289.16 154.77 L290.85 155.19 L292.54 155.59 L294.24 155.98 L295.93 156.36 L297.62 156.73 L299.31 157.09 L301.00 157.45 L302.69 157.80 L304.38 158.14 L306.07 158.48 L307.76 158.81 L309.45 159.14 L311.14 159.47 L312.83 159.80 L314.52 160.13 L316.21 160.46 L317.90 160.79 L319.59 161.12 L321.28 161.46 L322.98 161.80 L324.67 162.14 L326.36 162.49 L328.05 162.83 L329.74 163.17 L331.43 163.51 L333.12 163.85 L334.81 164.18 L336.50 164.52 L338.19 164.85 L339.88 165.17 L341.57 165.50 L343.26 165.82 L344.95 166.14 L346.64 166.45 L348.33 166.76 L350.02 167.06 L351.71 167.36 L353.41 167.66 L355.10 167.95 L356.79 168.23 L358.48 168.50 L360.17 168.77 L361.86 169.04 L363.55 169.29 L365.24 169.54 L366.93 169.78 L368.62 170.02 L370.31 170.25" stroke="#3a3a3a" stroke-width="1.1" stroke-dasharray="1.3 2.5"/>
<path d="M95.40 187.07 L95.86 180.36 L96.31 174.91 L96.77 169.89 L97.22 165.16 L97.68 160.66 L98.13 156.34 L98.59 152.19 L99.04 148.19 L99.50 144.33 L99.95 140.60 L100.41 137.00 L100.86 133.52 L101.32 130.16 L101.77 126.91 L102.23 123.77 L102.68 120.74 L103.14 117.81 L103.59 114.99 L104.05 112.26 L104.50 109.64 L104.96 107.10 L105.41 104.66 L105.87 102.31 L106.32 100.05 L106.78 97.87 L107.23 95.78 L107.69 93.77 L108.14 91.84 L108.60 89.99 L109.05 88.21 L109.51 86.51 L109.96 84.88 L110.42 83.32 L110.88 81.83 L111.33 80.40 L111.79 79.04 L112.24 77.75 L112.70 76.51 L113.15 75.34 L113.61 74.22 L114.06 73.16 L114.52 72.15 L114.97 71.19 L115.43 70.29 L115.88 69.43 L116.34 68.63 L116.79 67.87 L117.25 67.15 L117.70 66.48 L118.16 65.85 L118.61 65.26 L119.07 64.71 L119.52 64.20 L119.98 63.73 L120.43 63.29 L120.89 62.88 L121.34 62.51 L121.80 62.17 L122.25 61.87 L122.71 61.59 L123.16 61.34 L123.62 61.12 L124.07 60.92 L124.53 60.75 L124.98 60.61 L125.44 60.49 L125.90 60.39 L126.35 60.32 L126.81 60.27 L127.26 60.23 L127.72 60.22 L128.17 60.23 L128.63 60.25 L129.08 60.30 L129.54 60.36 L129.99 60.43 L130.45 60.52 L130.90 60.63 L131.36 60.75 L131.81 60.89 L132.27 61.04 L132.72 61.20 L133.18 61.38 L133.63 61.56 L134.09 61.76 L134.54 61.97 L135.00 62.19 L135.45 62.42 L135.91 62.66 L136.36 62.90 L136.82 63.16 L137.27 63.43 L137.73 63.70 L138.18 63.98 L138.64 64.27 L139.09 64.56 L139.55 64.86 L140.00 65.17 L140.46 65.49 L140.92 65.81 L141.37 66.13 L141.83 66.46 L142.28 66.80 L142.74 67.13 L143.19 67.48 L143.65 67.83 L144.10 68.18 L144.56 68.53 L145.01 68.89 L145.47 69.25 L145.92 69.62 L146.38 69.98 L146.83 70.35 L147.29 70.73 L147.74 71.10 L148.20 71.48 L148.65 71.86 L149.11 72.24 L149.56 72.62 L150.02 73.01 L150.47 73.39 L150.93 73.78 L151.38 74.17 L151.84 74.56 L152.29 74.95 L152.75 75.34 L153.20 75.73 L153.66 76.12 L154.11 76.52 L154.57 76.91 L155.02 77.31 L155.48 77.70 L155.93 78.10 L156.39 78.49 L156.85 78.89 L157.30 79.28 L157.76 79.68 L158.21 80.08 L158.67 80.47 L159.12 80.87 L159.58 81.26 L160.03 81.66 L160.49 82.05 L160.94 82.45 L161.40 82.84 L161.85 83.23 L162.31 83.63 L162.76 84.02 L163.22 84.41 L163.67 84.80 L164.13 85.19 L164.58 85.58 L165.04 85.97 L165.49 86.35 L165.95 86.74 L166.40 87.12 L166.86 87.50 L167.31 87.88 L167.77 88.26 L168.22 88.64 L169.13 89.39 L170.82 90.78 L172.52 92.14 L174.21 93.49 L175.90 94.82 L177.59 96.14 L179.28 97.44 L180.97 98.72 L182.66 100.00 L184.35 101.26 L186.04 102.51 L187.73 103.76 L189.42 104.99 L191.11 106.22 L192.80 107.43 L194.49 108.64 L196.18 109.83 L197.87 111.01 L199.56 112.18 L201.25 113.33 L202.95 114.48 L204.64 115.60 L206.33 116.71 L208.02 117.81 L209.71 118.89 L211.40 119.95 L213.09 120.99 L214.78 122.02 L216.47 123.03 L218.16 124.02 L219.85 124.98 L221.54 125.93 L223.23 126.86 L224.92 127.77 L226.61 128.66 L228.30 129.52 L229.99 130.36 L231.68 131.18 L233.38 131.97 L235.07 132.76 L236.76 133.53 L238.45 134.29 L240.14 135.04 L241.83 135.77 L243.52 136.49 L245.21 137.21 L246.90 137.91 L248.59 138.60 L250.28 139.28 L251.97 139.95 L253.66 140.61 L255.35 141.25 L257.04 141.89 L258.73 142.52 L260.42 143.14 L262.11 143.75 L263.81 144.35 L265.50 144.95 L267.19 145.53 L268.88 146.11 L270.57 146.67 L272.26 147.23 L273.95 147.78 L275.64 148.32 L277.33 148.86 L279.02 149.38 L280.71 149.89 L282.40 150.39 L284.09 150.87 L285.78 151.34 L287.47 151.80 L289.16 152.25 L290.85 152.69 L292.54 153.12 L294.24 153.54 L295.93 153.95 L297.62 154.35 L299.31 154.75 L301.00 155.14 L302.69 155.52 L304.38 155.90 L306.07 156.28 L307.76 156.65 L309.45 157.01 L311.14 157.38 L312.83 157.74 L314.52 158.10 L316.21 158.46 L317.90 158.82 L319.59 159.18 L321.28 159.54 L322.98 159.90 L324.67 160.26 L326.36 160.62 L328.05 160.97 L329.74 161.32 L331.43 161.66 L333.12 162.00 L334.81 162.33 L336.50 162.67 L338.19 162.99 L339.88 163.32 L341.57 163.64 L343.26 163.96 L344.95 164.27 L346.64 164.58 L348.33 164.89 L350.02 165.19 L351.71 165.49 L353.41 165.79 L355.10 166.08 L356.79 166.37 L358.48 166.66 L360.17 166.94 L361.86 167.22 L363.55 167.50 L365.24 167.78 L366.93 168.05 L368.62 168.32 L370.31 168.59" stroke="#4a64a8" stroke-width="1.8"/>
</g>
<rect x="95.35" y="35.5" width="273.15" height="168.9" fill="none" stroke="#a4a4a4" stroke-width="0.85"/>
<path d="M95.40 204.40 L95.40 200.40 M95.40 35.50 L95.40 39.50 M104.50 204.40 L104.50 202.00 M104.50 35.50 L104.50 37.90 M113.61 204.40 L113.61 202.00 M113.61 35.50 L113.61 37.90 M122.71 204.40 L122.71 202.00 M122.71 35.50 L122.71 37.90 M131.81 204.40 L131.81 202.00 M131.81 35.50 L131.81 37.90 M140.92 204.40 L140.92 200.40 M140.92 35.50 L140.92 39.50 M150.02 204.40 L150.02 202.00 M150.02 35.50 L150.02 37.90 M159.12 204.40 L159.12 202.00 M159.12 35.50 L159.12 37.90 M168.22 204.40 L168.22 202.00 M168.22 35.50 L168.22 37.90 M177.33 204.40 L177.33 202.00 M177.33 35.50 L177.33 37.90 M186.43 204.40 L186.43 200.40 M186.43 35.50 L186.43 39.50 M195.53 204.40 L195.53 202.00 M195.53 35.50 L195.53 37.90 M204.64 204.40 L204.64 202.00 M204.64 35.50 L204.64 37.90 M213.74 204.40 L213.74 202.00 M213.74 35.50 L213.74 37.90 M222.84 204.40 L222.84 202.00 M222.84 35.50 L222.84 37.90 M231.94 204.40 L231.94 200.40 M231.94 35.50 L231.94 39.50 M241.05 204.40 L241.05 202.00 M241.05 35.50 L241.05 37.90 M250.15 204.40 L250.15 202.00 M250.15 35.50 L250.15 37.90 M259.25 204.40 L259.25 202.00 M259.25 35.50 L259.25 37.90 M268.36 204.40 L268.36 202.00 M268.36 35.50 L268.36 37.90 M277.46 204.40 L277.46 200.40 M277.46 35.50 L277.46 39.50 M286.56 204.40 L286.56 202.00 M286.56 35.50 L286.56 37.90 M295.67 204.40 L295.67 202.00 M295.67 35.50 L295.67 37.90 M304.77 204.40 L304.77 202.00 M304.77 35.50 L304.77 37.90 M313.87 204.40 L313.87 202.00 M313.87 35.50 L313.87 37.90 M322.98 204.40 L322.98 200.40 M322.98 35.50 L322.98 39.50 M332.08 204.40 L332.08 202.00 M332.08 35.50 L332.08 37.90 M341.18 204.40 L341.18 202.00 M341.18 35.50 L341.18 37.90 M350.28 204.40 L350.28 202.00 M350.28 35.50 L350.28 37.90 M359.39 204.40 L359.39 202.00 M359.39 35.50 L359.39 37.90 M368.49 204.40 L368.49 200.40 M368.49 35.50 L368.49 39.50 M95.35 200.30 L99.35 200.30 M368.50 200.30 L364.50 200.30 M95.35 193.79 L97.75 193.79 M368.50 193.79 L366.10 193.79 M95.35 187.28 L97.75 187.28 M368.50 187.28 L366.10 187.28 M95.35 180.76 L97.75 180.76 M368.50 180.76 L366.10 180.76 M95.35 174.25 L97.75 174.25 M368.50 174.25 L366.10 174.25 M95.35 167.74 L99.35 167.74 M368.50 167.74 L364.50 167.74 M95.35 161.23 L97.75 161.23 M368.50 161.23 L366.10 161.23 M95.35 154.72 L97.75 154.72 M368.50 154.72 L366.10 154.72 M95.35 148.20 L97.75 148.20 M368.50 148.20 L366.10 148.20 M95.35 141.69 L97.75 141.69 M368.50 141.69 L366.10 141.69 M95.35 135.18 L99.35 135.18 M368.50 135.18 L364.50 135.18 M95.35 128.67 L97.75 128.67 M368.50 128.67 L366.10 128.67 M95.35 122.16 L97.75 122.16 M368.50 122.16 L366.10 122.16 M95.35 115.64 L97.75 115.64 M368.50 115.64 L366.10 115.64 M95.35 109.13 L97.75 109.13 M368.50 109.13 L366.10 109.13 M95.35 102.62 L99.35 102.62 M368.50 102.62 L364.50 102.62 M95.35 96.11 L97.75 96.11 M368.50 96.11 L366.10 96.11 M95.35 89.60 L97.75 89.60 M368.50 89.60 L366.10 89.60 M95.35 83.08 L97.75 83.08 M368.50 83.08 L366.10 83.08 M95.35 76.57 L97.75 76.57 M368.50 76.57 L366.10 76.57 M95.35 70.06 L99.35 70.06 M368.50 70.06 L364.50 70.06 M95.35 63.55 L97.75 63.55 M368.50 63.55 L366.10 63.55 M95.35 57.04 L97.75 57.04 M368.50 57.04 L366.10 57.04 M95.35 50.52 L97.75 50.52 M368.50 50.52 L366.10 50.52 M95.35 44.01 L97.75 44.01 M368.50 44.01 L366.10 44.01 M95.35 37.50 L99.35 37.50 M368.50 37.50 L364.50 37.50" stroke="#858585" stroke-width="0.65" fill="none"/>
<g class="tx">
<g font-size="15.5"><text x="57.5" y="205.4" textLength="34.6" lengthAdjust="spacing">0.000</text><text x="57.5" y="172.8" textLength="34.6" lengthAdjust="spacing">0.005</text><text x="57.5" y="140.2" textLength="34.6" lengthAdjust="spacing">0.010</text><text x="57.5" y="107.7" textLength="34.6" lengthAdjust="spacing">0.015</text><text x="57.5" y="75.1" textLength="34.6" lengthAdjust="spacing">0.020</text><text x="57.5" y="42.5" textLength="34.6" lengthAdjust="spacing">0.025</text><text x="95.4" y="219.2" text-anchor="middle" letter-spacing="-0.3">0</text><text x="140.9" y="219.2" text-anchor="middle" letter-spacing="-0.3">5</text><text x="186.4" y="219.2" text-anchor="middle" letter-spacing="-0.3">10</text><text x="231.9" y="219.2" text-anchor="middle" letter-spacing="-0.3">15</text><text x="277.4" y="219.2" text-anchor="middle" letter-spacing="-0.3">20</text><text x="322.9" y="219.2" text-anchor="middle" letter-spacing="-0.3">25</text><text x="368.4" y="219.2" text-anchor="middle" letter-spacing="-0.3">30</text></g>
<g font-size="15">
<text y="241.3" x="181 198 206 220.8 236.2 242 247.8 258.4 267.1 278"><tspan font-style="italic">p</tspan>(WW)[GeV]</text><text x="188.9" y="243.8" font-style="italic" font-size="11">T</text>
</g>
<g font-size="13.6"><text y="59.3" x="409.8 418.0 424.6 435.1 442.5 449.2 456.2 461.3 468.8 475.4 478.8 486.3 489.6 497.2">Powheg Pythia8</text><text y="82.4" x="409.8 417.9 424.6 435.1 442.5 449.0 456 460.9 471.25 477.7 482.4 493.1 496.2 503.4 511.1">Powheg Herwig++</text><text y="105.7" x="409.6 416.8 429.2">aMC</text><text x="438.4" y="104.8" font-size="8.6">@</text><text y="105.7" x="447.2 458.6 466.3 476 479.1 490.05 497.1 502.1 512.6 515.5 522.3 529.8">NLO Herwig++</text><text y="129.3" x="409.8 422.3 432.1 439 442.6 450.3 456.7 460.4 467.5 470.8 478.7">MG5 Pythia6</text><text y="152.4" x="409.8 418.9 426.1 431.7 439.3 452.1 464.2 470.4">Resummed</text><text y="178.1" x="409.9 417.4 423.7 431.0 434.3 440 441.9 451.6 457.9 462.9 466.5 473.1 476.7 480.0 487.3">Scale Variation</text></g>
</g>
<g fill="none" stroke-width="1.9">
<path d="M386.8 55.9h2.2M390.4 55.9h4.7M396.5 55.9h2.5" stroke="#0000ff"/>
<path d="M386.8 79h15.1" stroke="#ff8a14"/>
<path d="M386.8 102.3h13.3" stroke="#00ff00" stroke-dasharray="2.1 1.6"/>
<path d="M386.8 125.9h15.1" stroke="#ff0000" stroke-dasharray="4.4 1.65"/>
<path d="M386.8 149.1h15.1" stroke="#4a64a8"/>
</g>
<rect x="385.2" y="161.7" width="21.5" height="21.8" fill="#d9d9ff"/>
<g class="tx">
<!-- y label, rotated -->
<g transform="rotate(-90)" font-size="18">
<text x="-159.3" y="16">d</text>
<text transform="translate(-147.8,15.9) scale(1.3,1)" font-style="italic" font-size="17.5" stroke="#fff" stroke-width="0.2">σ</text>
<path d="M-170.7 23.3H-121.2" stroke="#000" stroke-width="1" fill="none"/>
<text transform="translate(-171.3,45.5) scale(1.3,1)" font-style="italic" font-size="17.5" stroke="#fff" stroke-width="0.2">σ</text>
<text x="-155.1" y="45.5">d</text>
<text x="-144.7" y="45.5">p</text>
<text x="-133.3" y="50.8" font-style="italic" font-size="12">T</text>
<text x="-118.9" y="29.5">[</text>
<text x="-92.5" y="15.7" text-anchor="middle">1</text>
<path d="M-108.8 23.3H-72.9" stroke="#000" stroke-width="1" fill="none"/>
<text transform="translate(-109.1,46) scale(0.76,1)">G</text><text transform="translate(-99.0,46) scale(1.1,1)">e</text><text transform="translate(-87.6,46) scale(0.93,1)">V</text>
<text x="-71.5" y="29.5">]</text>
</g>
</g>
</svg>
</body></html>
